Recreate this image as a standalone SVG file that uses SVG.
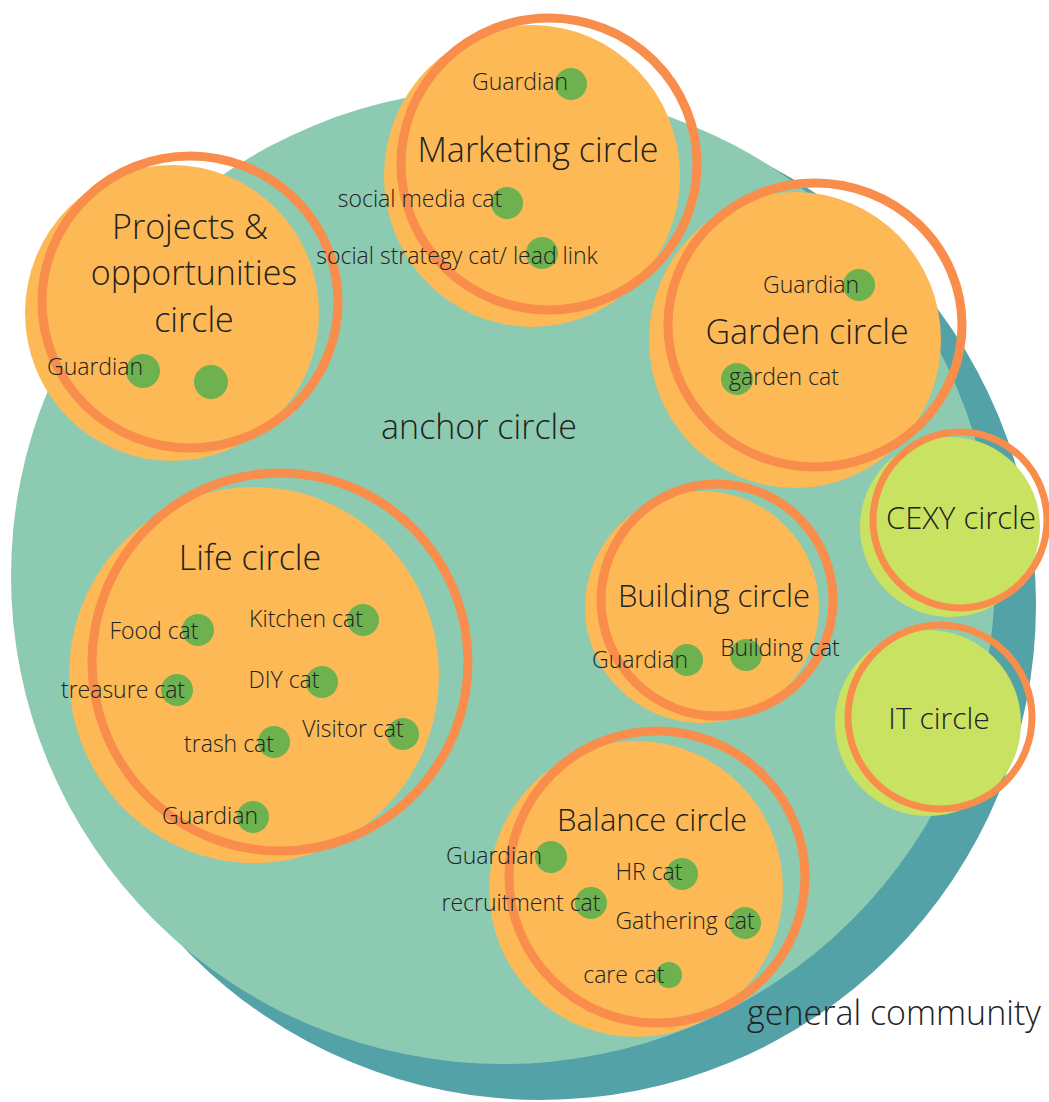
<svg xmlns="http://www.w3.org/2000/svg" width="1049" height="1102" viewBox="0 0 1049 1102">
<style>
.gc{fill:#53a2a7}
.anchor{fill:#8ccbb1}
.fill{fill:#fcb955}
.fillg{fill:#c9e262}
.ring{fill:none;stroke:#f98d4c;stroke-width:9}
.ring2{fill:none;stroke:#f98d4c;stroke-width:7}
.dot{fill:#6db24f}
text{font-family:"Open Sans","Noto Sans","Liberation Sans",sans-serif;font-weight:300;fill:#222222}
.t{font-size:34px}
.s{font-size:23px}
</style>
<rect width="1049" height="1102" fill="#ffffff"/>
<g id="general-community">
<circle class="gc" cx="541" cy="605" r="495"/>
<text class="t" x="894" y="1025" text-anchor="middle">general community</text>
</g>
<g id="anchor-circle">
<ellipse class="anchor" cx="503" cy="576" rx="492" ry="488"/>
<text class="t" x="479" y="439" text-anchor="middle">anchor circle</text>
</g>
<g id="connectors"></g>
<g id="projects-circle">
<ellipse class="fill" cx="172" cy="313" rx="147" ry="148"/>
<ellipse class="ring" cx="190" cy="302" rx="148" ry="146"/>
<circle class="dot" cx="143" cy="371" r="17"/>
<circle class="dot" cx="211" cy="382" r="17"/>
<text class="t" x="190" y="239" text-anchor="middle">Projects &amp;</text>
<text class="t" x="194" y="285" text-anchor="middle">opportunities</text>
<text class="t" x="194" y="332" text-anchor="middle">circle</text>
<text class="s" x="95" y="375" text-anchor="middle">Guardian</text>
</g>
<g id="marketing-circle">
<ellipse class="fill" cx="532" cy="176" rx="148" ry="151"/>
<ellipse class="ring" cx="549" cy="164" rx="148" ry="146"/>
<circle class="dot" cx="571" cy="84" r="16"/>
<circle class="dot" cx="507" cy="203" r="16"/>
<circle class="dot" cx="542" cy="253" r="16"/>
<text class="t" x="538" y="162" text-anchor="middle">Marketing circle</text>
<text class="s" x="520" y="90" text-anchor="middle">Guardian</text>
<text class="s" x="420" y="207" text-anchor="middle">social media cat</text>
<text class="s" x="457" y="264" text-anchor="middle">social strategy cat/ lead link</text>
</g>
<g id="garden-circle">
<ellipse class="fill" cx="795" cy="340" rx="146" ry="148"/>
<ellipse class="ring" cx="815" cy="325" rx="147" ry="142"/>
<circle class="dot" cx="859" cy="285" r="16"/>
<circle class="dot" cx="737" cy="379" r="16"/>
<text class="t" x="807" y="344" text-anchor="middle">Garden circle</text>
<text class="s" x="811" y="293" text-anchor="middle">Guardian</text>
<text class="s" x="784" y="385" text-anchor="middle">garden cat</text>
</g>
<g id="life-circle">
<ellipse class="fill" cx="254" cy="675" rx="185" ry="188"/>
<ellipse class="ring" cx="280" cy="662" rx="188" ry="189"/>
<circle class="dot" cx="198" cy="630" r="16"/>
<circle class="dot" cx="363" cy="620" r="16"/>
<circle class="dot" cx="177" cy="690" r="16"/>
<circle class="dot" cx="322" cy="682" r="16"/>
<circle class="dot" cx="274" cy="742" r="16"/>
<circle class="dot" cx="403" cy="734" r="16"/>
<circle class="dot" cx="253" cy="817" r="16"/>
<text class="t" x="250" y="570" text-anchor="middle">Life circle</text>
<text class="s" x="154" y="639" text-anchor="middle">Food cat</text>
<text class="s" x="306" y="627" text-anchor="middle">Kitchen cat</text>
<text class="s" x="123" y="698" text-anchor="middle">treasure cat</text>
<text class="s" x="284" y="688" text-anchor="middle">DIY cat</text>
<text class="s" x="229" y="752" text-anchor="middle">trash cat</text>
<text class="s" x="353" y="737" text-anchor="middle">Visitor cat</text>
<text class="s" x="210" y="824" text-anchor="middle">Guardian</text>
</g>
<g id="building-circle">
<ellipse class="fill" cx="702" cy="607" rx="117" ry="116"/>
<ellipse class="ring" cx="717" cy="600" rx="116" ry="116"/>
<circle class="dot" cx="687" cy="660" r="16"/>
<circle class="dot" cx="746" cy="655" r="16"/>
<text class="t" x="714" y="607" text-anchor="middle" style="font-size:31px">Building circle</text>
<text class="s" x="640" y="668" text-anchor="middle">Guardian</text>
<text class="s" x="780" y="656" text-anchor="middle">Building cat</text>
</g>
<g id="balance-circle">
<ellipse class="fill" cx="636" cy="889" rx="147" ry="148"/>
<ellipse class="ring" cx="657" cy="877" rx="148" ry="146"/>
<circle class="dot" cx="551" cy="857" r="16"/>
<circle class="dot" cx="682" cy="874" r="16"/>
<circle class="dot" cx="591" cy="903" r="16"/>
<circle class="dot" cx="745" cy="923" r="16"/>
<circle class="dot" cx="669" cy="975" r="13"/>
<text class="t" x="652" y="831" text-anchor="middle" style="font-size:31px">Balance circle</text>
<text class="s" x="494" y="864" text-anchor="middle">Guardian</text>
<text class="s" x="649" y="880" text-anchor="middle">HR cat</text>
<text class="s" x="521" y="911" text-anchor="middle">recruitment cat</text>
<text class="s" x="685" y="929" text-anchor="middle">Gathering cat</text>
<text class="s" x="624" y="983" text-anchor="middle">care cat</text>
</g>
<g id="cexy-circle">
<ellipse class="fillg" cx="950" cy="527" rx="90" ry="90"/>
<ellipse class="ring2" cx="960" cy="520" rx="87" ry="88"/>
<text class="t" x="961" y="529" text-anchor="middle" style="font-size:31px">CEXY circle</text>
</g>
<g id="it-circle">
<ellipse class="fillg" cx="928" cy="723" rx="93" ry="93"/>
<ellipse class="ring2" cx="940" cy="717" rx="92" ry="92"/>
<text class="t" x="939" y="729" text-anchor="middle" style="font-size:30px">IT circle</text>
</g>
</svg>
